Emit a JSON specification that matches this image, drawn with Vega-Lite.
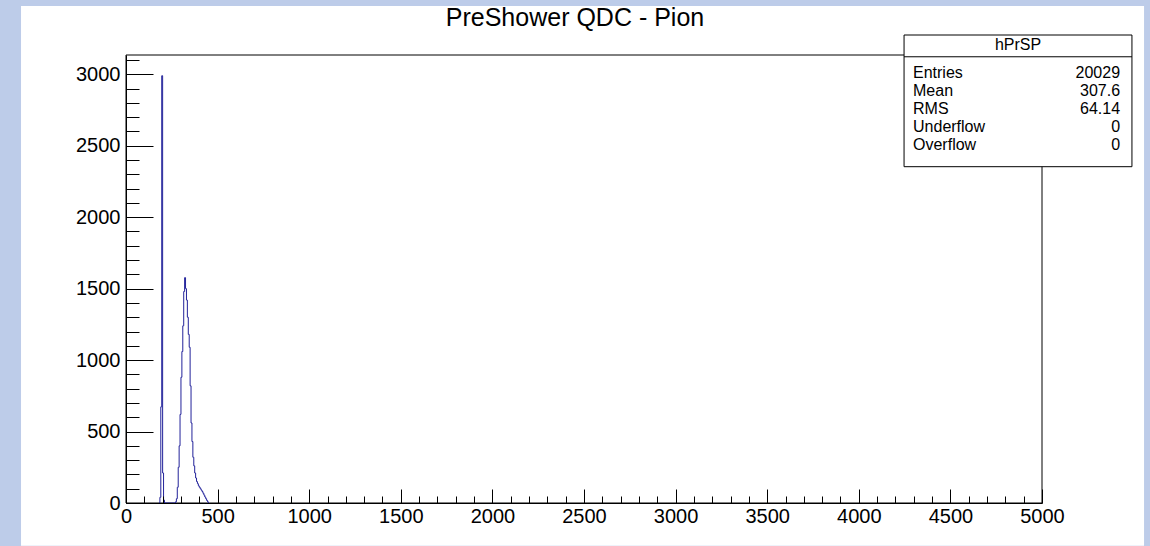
{
  "$schema": "https://vega.github.io/schema/vega-lite/v6.json",
  "width": 916,
  "height": 448,
  "autosize": {"type": "none"},
  "padding": {"left": 126, "top": 55, "right": 108, "bottom": 43},
  "background": "#bdcce9",
  "config": {"view": {"stroke": null}, "font": "Liberation Sans"},
  "title": {"text": "PreShower QDC - Pion", "font": "Liberation Sans", "fontSize": 25, "fontWeight": "normal", "color": "#000000", "anchor": "middle", "dx": -9, "baseline": "alphabetic", "offset": -45},
  "datasets": {
    "hist": [
      {"qdc": 180, "count": 0}, {"qdc": 185, "count": 40}, {"qdc": 190, "count": 673}, {"qdc": 195, "count": 2990}, {"qdc": 200, "count": 210}, {"qdc": 205, "count": 20}, {"qdc": 210, "count": 0},
      {"qdc": 265, "count": 0}, {"qdc": 270, "count": 8}, {"qdc": 275, "count": 30}, {"qdc": 280, "count": 110}, {"qdc": 285, "count": 250}, {"qdc": 290, "count": 400}, {"qdc": 295, "count": 620}, {"qdc": 300, "count": 880}, {"qdc": 305, "count": 1060}, {"qdc": 310, "count": 1240}, {"qdc": 315, "count": 1480}, {"qdc": 320, "count": 1577}, {"qdc": 325, "count": 1500}, {"qdc": 330, "count": 1420}, {"qdc": 335, "count": 1300}, {"qdc": 340, "count": 1180}, {"qdc": 345, "count": 1090}, {"qdc": 350, "count": 820}, {"qdc": 355, "count": 560}, {"qdc": 360, "count": 430}, {"qdc": 365, "count": 320}, {"qdc": 370, "count": 260}, {"qdc": 375, "count": 210}, {"qdc": 380, "count": 175}, {"qdc": 385, "count": 150}, {"qdc": 390, "count": 135}, {"qdc": 395, "count": 120}, {"qdc": 400, "count": 110}, {"qdc": 405, "count": 100}, {"qdc": 410, "count": 90}, {"qdc": 415, "count": 80}, {"qdc": 420, "count": 68}, {"qdc": 425, "count": 55}, {"qdc": 430, "count": 42}, {"qdc": 435, "count": 30}, {"qdc": 440, "count": 18}, {"qdc": 445, "count": 8}, {"qdc": 450, "count": 0}
    ],
    "stats": [
      {"row": 1, "label": "Entries", "value": "20029"},
      {"row": 2, "label": "Mean", "value": "307.6"},
      {"row": 3, "label": "RMS", "value": "64.14"},
      {"row": 4, "label": "Underflow", "value": "0"},
      {"row": 5, "label": "Overflow", "value": "0"}
    ]
  },
  "layer": [
    {
      "layer": [
        {
          "data": {"values": [{}]},
          "mark": {"type": "rect", "fill": "#ffffff", "strokeWidth": 0},
          "encoding": {
            "x": {"datum": -573, "type": "quantitative"},
            "x2": {"datum": 5557},
            "y": {"datum": -299, "type": "quantitative"},
            "y2": {"datum": 3478}
          }
        },
        {
          "data": {"values": [{}]},
          "mark": {"type": "rect", "fill": "transparent", "stroke": "#000000", "strokeWidth": 1},
          "encoding": {
            "x": {"datum": 0, "type": "quantitative"},
            "x2": {"datum": 5000},
            "y": {"datum": 0, "type": "quantitative"},
            "y2": {"datum": 3135}
          }
        },
        {
          "data": {"name": "hist"},
          "mark": {"type": "line", "interpolate": "step-after", "color": "#22229a", "strokeWidth": 1},
          "encoding": {
            "x": {
              "field": "qdc", "type": "quantitative",
              "scale": {"domain": [0, 5000], "nice": false, "zero": false},
              "axis": {
                "title": null, "format": "d", "tickCount": 200,
                "values": [0,100,200,300,400,500,600,700,800,900,1000,1100,1200,1300,1400,1500,1600,1700,1800,1900,2000,2100,2200,2300,2400,2500,2600,2700,2800,2900,3000,3100,3200,3300,3400,3500,3600,3700,3800,3900,4000,4100,4200,4300,4400,4500,4600,4700,4800,4900,5000],
                "tickSize": {"condition": {"test": "datum.value % 500 === 0", "value": -14}, "value": -7},
                "labelExpr": "datum.value % 500 === 0 ? datum.label : ''",
                "labelPadding": 17, "labelFontSize": 20, "labelFont": "Liberation Sans", "labelColor": "#000000",
                "labelFlush": false, "labelOverlap": false, "labelBound": false,
                "tickColor": "#000000", "domainColor": "#000000", "grid": false, "zindex": 1
              }
            },
            "y": {
              "field": "count", "type": "quantitative",
              "scale": {"domain": [0, 3135], "nice": false},
              "axis": {
                "title": null, "format": "d", "tickCount": 200,
                "values": [0,100,200,300,400,500,600,700,800,900,1000,1100,1200,1300,1400,1500,1600,1700,1800,1900,2000,2100,2200,2300,2400,2500,2600,2700,2800,2900,3000,3100],
                "tickSize": {"condition": {"test": "datum.value % 500 === 0", "value": -27}, "value": -13},
                "labelExpr": "datum.value % 500 === 0 ? datum.label : ''",
                "labelPadding": 33, "labelFontSize": 20, "labelFont": "Liberation Sans", "labelColor": "#000000",
                "labelFlush": false, "labelOverlap": false, "labelBound": false,
                "tickColor": "#000000", "domainColor": "#000000", "grid": false, "zindex": 1
              }
            }
          }
        }
      ]
    },
    {
      "layer": [
        {
          "data": {"values": [{}]},
          "mark": {"type": "rect", "fill": "#ffffff", "stroke": "#000000", "strokeWidth": 1},
          "encoding": {
            "x": {"datum": 4247, "type": "quantitative"},
            "x2": {"datum": 5491},
            "y": {"datum": -1.13, "type": "quantitative", "scale": {"domain": [-1.13, 6.19], "range": [-20, 111.7], "nice": false, "zero": false}, "axis": null},
            "y2": {"datum": 6.19}
          }
        },
        {
          "data": {"values": [{}]},
          "mark": {"type": "rule", "stroke": "#000000", "strokeWidth": 1},
          "encoding": {
            "x": {"datum": 4247, "type": "quantitative"},
            "x2": {"datum": 5491},
            "y": {"datum": 0.08, "type": "quantitative", "axis": null}
          }
        },
        {
          "data": {"values": [{"name": "hPrSP"}]},
          "mark": {"type": "text", "align": "center", "baseline": "middle", "fontSize": 16, "font": "Liberation Sans", "color": "#000000"},
          "encoding": {
            "x": {"datum": 4869, "type": "quantitative"},
            "y": {"datum": -0.57, "type": "quantitative", "axis": null},
            "text": {"field": "name", "type": "nominal"}
          }
        },
        {
          "data": {"name": "stats"},
          "mark": {"type": "text", "align": "left", "baseline": "middle", "fontSize": 16, "font": "Liberation Sans", "color": "#000000"},
          "encoding": {
            "x": {"datum": 4296, "type": "quantitative"},
            "y": {"field": "row", "type": "quantitative", "axis": null},
            "text": {"field": "label", "type": "nominal"}
          }
        },
        {
          "data": {"name": "stats"},
          "mark": {"type": "text", "align": "right", "baseline": "middle", "fontSize": 16, "font": "Liberation Sans", "color": "#000000"},
          "encoding": {
            "x": {"datum": 5426, "type": "quantitative"},
            "y": {"field": "row", "type": "quantitative", "axis": null},
            "text": {"field": "value", "type": "nominal"}
          }
        }
      ]
    }
  ],
  "resolve": {"scale": {"y": "independent"}}
}
